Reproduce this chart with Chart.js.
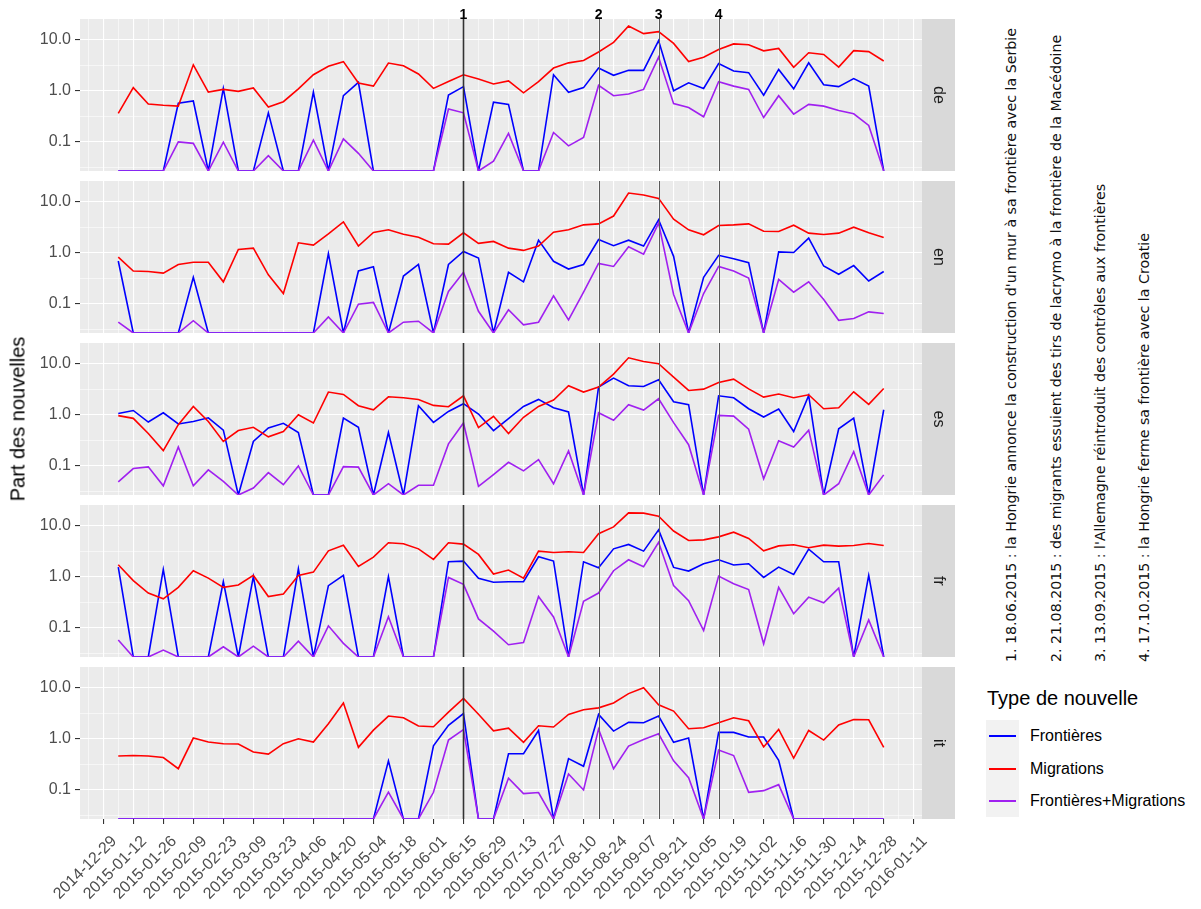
<!DOCTYPE html>
<html>
<head>
<meta charset="utf-8">
<script src="https://cdn.jsdelivr.net/npm/chart.js@4.4.1/dist/chart.umd.min.js"></script>
<style>
  body { margin: 0; background: #fff; font-family: "Liberation Sans", Arial, sans-serif; }
  #wrap { position: relative; width: 1201px; height: 909px; overflow: hidden; }
  #wrap canvas { position: absolute; left: 0; }
  .note { position: absolute; white-space: nowrap; transform-origin: 0 0; transform: rotate(-90deg);
          font-family: "DejaVu Sans", sans-serif; font-size: 14.2px; line-height: 16px; color: #111; }
  .ytitle { position: absolute; left: 18px; top: 419px; white-space: nowrap; font-size: 20px; color: #000;
            transform: translate(-50%, -50%) rotate(-90deg); }
  .lgtitle { position: absolute; left: 987px; top: 688px; font-size: 20px; line-height: 20px; color: #000; }
  .lgbox { position: absolute; left: 986px; top: 720px; width: 33px; height: 97px; background: #F2F2F2; }
  .lgline { position: absolute; left: 989px; width: 27px; height: 2px; }
  .lgtext { position: absolute; left: 1030px; font-size: 16px; line-height: 18px; color: #000; white-space: nowrap; }
</style>
</head>
<body>
<div id="wrap"></div>
<script>
// semaines (lundi)
const weeks = [
  '2015-01-05','2015-01-12','2015-01-19','2015-01-26','2015-02-02','2015-02-09','2015-02-16','2015-02-23',
  '2015-03-02','2015-03-09','2015-03-16','2015-03-23','2015-03-30','2015-04-06','2015-04-13','2015-04-20',
  '2015-04-27','2015-05-04','2015-05-11','2015-05-18','2015-05-25','2015-06-01','2015-06-08','2015-06-15',
  '2015-06-22','2015-06-29','2015-07-06','2015-07-13','2015-07-20','2015-07-27','2015-08-03','2015-08-10',
  '2015-08-17','2015-08-24','2015-08-31','2015-09-07','2015-09-14','2015-09-21','2015-09-28','2015-10-05',
  '2015-10-12','2015-10-19','2015-10-26','2015-11-02','2015-11-09','2015-11-16','2015-11-23','2015-11-30',
  '2015-12-07','2015-12-14','2015-12-21','2015-12-28'
];
const tickLabels = [
  '2014-12-29','2015-01-12','2015-01-26','2015-02-09','2015-02-23','2015-03-09','2015-03-23','2015-04-06',
  '2015-04-20','2015-05-04','2015-05-18','2015-06-01','2015-06-15','2015-06-29','2015-07-13','2015-07-27',
  '2015-08-10','2015-08-24','2015-09-07','2015-09-21','2015-10-05','2015-10-19','2015-11-02','2015-11-16',
  '2015-11-30','2015-12-14','2015-12-28','2016-01-11'
];
const yTicks = [0.1, 1, 10];
const yTickLabels = ['0.1', '1.0', '10.0'];

const seriesNames = ['Frontières', 'Migrations', 'Frontières+Migrations'];
const seriesColors = ['#0000FF', '#FF0000', '#A020F0'];

const deFront = [0,0,0,0,0.57,0.63,0,1.11,0,0,0.37,0,0,0.94,0,0.80,1.46,0,0,0,0,0,0.82,1.2,
  0,0.60,0.54,0,0,2.05,0.93,1.15,2.77,2.0,2.5,2.5,9.5,1.0,1.43,1.11,3.4,2.42,2.25,0.82,2.6,1.09,3.5,1.31,1.2,1.72,1.23,0];
const deMigr = [0.36,1.15,0.55,0.52,0.50,3.2,0.94,1.06,0.97,1.13,0.48,0.61,1.09,2.05,3.0,3.7,1.41,1.23,3.47,3.08,2.12,1.11,1.52,2.05,
  1.69,1.35,1.55,0.91,1.50,2.77,3.5,3.9,5.7,8.8,18.4,13.0,14.2,8.4,3.7,4.5,6.4,8.2,7.9,6.0,6.7,2.86,5.5,5.1,2.9,6.05,5.8,3.8];
const deBoth = [0,0,0,0,0.10,0.094,0,0.099,0,0,0.054,0,0,0.109,0,0.115,0.06,0,0,0,0,0,0.44,0.37,
  0,0.042,0.147,0,0,0.153,0.084,0.122,1.27,0.80,0.86,1.06,4.5,0.56,0.47,0.31,1.5,1.23,1.06,0.30,0.80,0.35,0.54,0.50,0.41,0.355,0.21,0];

const enFront = [0.69,0,0,0,0,0.33,0,0,0,0,0,0,0,0,0.96,0,0.44,0.53,0,0.35,0.59,0,0.59,1.06,
  0.79,0,0.415,0.27,1.76,0.68,0.48,0.59,1.81,1.37,1.76,1.35,4.4,0.85,0,0.33,0.89,0.76,0.64,0,1.04,1.01,1.93,0.55,0.38,0.56,0.28,0.43];
const enMigr = [0.82,0.44,0.43,0.40,0.59,0.65,0.65,0.27,1.16,1.23,0.37,0.16,1.56,1.41,2.34,4.0,1.35,2.48,2.8,2.3,2.0,1.50,1.47,2.45,
  1.52,1.66,1.23,1.11,1.35,2.52,2.8,3.5,3.66,5.2,14.6,13.4,11.5,4.5,2.8,2.24,3.4,3.5,3.66,2.63,2.6,3.44,2.41,2.27,2.41,3.15,2.45,1.98];
const enBoth = [0.044,0,0,0,0,0.047,0,0,0,0,0,0,0,0,0.056,0,0.099,0.107,0,0.044,0.046,0,0.175,0.415,
  0.072,0,0.077,0.039,0.044,0.144,0.049,0.17,0.62,0.54,1.31,0.94,3.77,0.153,0,0.16,0.54,0.44,0.32,0,0.30,0.17,0.27,0.122,0.048,0.052,0.070,0.065];

const esFront = [1.06,1.21,0.72,1.09,0.66,0.74,0.87,0.50,0,0.30,0.55,0.68,0.45,0,0,0.86,0.57,0,0.45,0,1.50,0.71,1.16,1.64,
  1.03,0.49,0.84,1.45,1.99,1.37,1.13,0,3.46,5.2,3.67,3.56,4.8,1.79,1.57,0,2.34,2.14,1.31,0.90,1.29,0.47,2.38,0,0.53,0.86,0,1.25];
const esMigr = [0.96,0.85,0.43,0.20,0.64,1.45,0.74,0.30,0.49,0.57,0.37,0.47,1.0,0.69,2.77,2.49,1.50,1.25,2.24,2.14,1.99,1.52,1.43,2.34,
  0.56,0.93,0.43,0.89,1.45,1.93,3.67,2.77,3.46,6.2,12.9,10.9,9.9,5.4,2.98,3.16,4.27,4.95,3.2,2.21,2.53,2.14,2.45,1.31,1.37,2.8,1.59,3.26];
const esBoth = [0.049,0.089,0.096,0.041,0.235,0.041,0.084,0.05,0,0.037,0.074,0.043,0.10,0,0,0.097,0.095,0,0.045,0,0.042,0.042,0.27,0.69,
  0.040,0.068,0.118,0.080,0.133,0.045,0.196,0,1.09,0.78,1.57,1.23,2.05,0.70,0.26,0,0.97,0.94,0.52,0.056,0.31,0.234,0.50,0,0.045,0.19,0,0.067];

const frFront = [1.54,0,0,1.39,0,0,0,0.80,0,1.01,0,0,1.43,0,0.67,1.06,0,0,1.0,0,0,0,1.96,2.02,
  0.93,0.78,0.80,0.80,2.45,2.02,0,1.96,1.50,3.5,4.27,3.16,8.2,1.52,1.29,1.79,2.14,1.69,1.79,0.97,1.54,1.11,3.46,1.96,1.96,0,1.06,0];
const frMigr = [1.71,0.84,0.48,0.37,0.62,1.31,0.94,0.62,0.69,1.06,0.41,0.46,1.06,1.23,3.2,4.1,1.59,2.42,4.6,4.4,3.5,2.18,4.6,4.33,
  2.72,1.13,1.35,0.94,3.16,2.98,3.07,2.98,6.9,9.4,17.6,17.4,15.2,7.8,5.1,5.25,6.0,7.4,5.6,3.2,4.0,4.2,3.67,4.14,3.96,4.07,4.46,4.07];
const frBoth = [0.058,0,0,0.037,0,0,0,0.043,0,0.044,0,0,0.055,0,0.11,0.05,0,0,0.166,0,0,0,0.97,0.71,
  0.15,0.087,0.047,0.052,0.41,0.164,0,0.33,0.48,1.31,2.14,1.57,4.7,0.67,0.34,0.089,1.03,0.73,0.56,0.049,0.62,0.19,0.40,0.31,0.60,0,0.143,0];

const itFront = [0,0,0,0,0,0,0,0,0,0,0,0,0,0,0,0,0,0,0.37,0,0,0.73,1.82,3.1,
  0,0,0.51,0.51,1.45,0,0.41,0.29,2.98,1.41,2.08,2.05,2.77,0.85,1.03,0,1.33,1.33,1.08,1.08,0.38,0,0,0,0,0,0,0];
const itMigr = [0.46,0.47,0.46,0.43,0.26,1.03,0.86,0.80,0.79,0.55,0.50,0.80,1.0,0.86,1.96,5.0,0.68,1.47,2.77,2.57,1.77,1.71,3.3,6.1,
  3.0,1.43,1.61,0.85,1.79,1.69,2.98,3.67,4.0,5.0,7.6,9.9,4.6,3.46,1.57,1.64,2.05,2.57,2.24,0.69,1.52,0.42,1.45,0.94,1.85,2.38,2.34,0.68];
const itBoth = [0,0,0,0,0,0,0,0,0,0,0,0,0,0,0,0,0,0,0.091,0,0,0.090,0.94,1.50,
  0,0,0.169,0.085,0.089,0,0.205,0.10,1.54,0.26,0.72,0.97,1.25,0.37,0.174,0,0.60,0.47,0.09,0.097,0.127,0,0,0,0,0,0,0];

const panels = [
  ['de', deFront, deMigr, deBoth],
  ['en', enFront, enMigr, enBoth],
  ['es', esFront, esMigr, esBoth],
  ['fr', frFront, frMigr, frBoth],
  ['it', itFront, itMigr, itBoth]
];

const eventDates = ['2015-06-15', '2015-08-17', '2015-09-14', '2015-10-12'];
const eventLabels = ['1', '2', '3', '4'];
const eventNotes = [
  "1. 18.06.2015 : la Hongrie annonce la construction d'un mur à sa frontière avec la Serbie",
  "2. 21.08.2015 : des migrants essuient des tirs de lacrymo à la frontière de la Macédoine",
  "3. 13.09.2015 : l'Allemagne réintroduit des contrôles aux frontières",
  "4. 17.10.2015 : la Hongrie ferme sa frontière avec la Croatie"
];

// mise en page
const CANVAS_W = 960, PLOT_L = 80, PLOT_R = 922, STRIP_W = 33;
const PANEL_TOP = [19, 181, 343, 505, 667], PANEL_H = 152;
const X_MIN = -1.55, X_MAX = 54.55;
const Y_MIN = Math.pow(10, -1.567), Y_MAX = Math.pow(10, 1.40);
const FONT = '"Liberation Sans", Arial, sans-serif';

function weekIndex(d) {
  const p = d.split('-').map(Number);
  return Math.round((Date.UTC(p[0], p[1] - 1, p[2]) - Date.UTC(2014, 11, 29)) / 604800000);
}
const tickPos = tickLabels.map(weekIndex);
const xGrid = [];
for (let k = Math.ceil(X_MIN); k <= Math.floor(X_MAX); k++) xGrid.push(k);
const yGrid = [Math.pow(10, -1.5), 0.1, Math.pow(10, -0.5), 1, Math.pow(10, 0.5), 10];

const panelPlugin = {
  id: 'panel',
  beforeDraw(chart) {
    const a = chart.chartArea, ctx = chart.ctx;
    ctx.save();
    ctx.fillStyle = '#EBEBEB';
    ctx.fillRect(a.left, a.top, a.right - a.left, a.bottom - a.top);
    ctx.restore();
  },
  afterDatasetsDraw(chart) {
    const a = chart.chartArea, ctx = chart.ctx, xs = chart.scales.x;
    ctx.save();
    eventDates.forEach((d, k) => {
      const x = Math.round(xs.getPixelForValue(weekIndex(d))) + 0.5;
      ctx.strokeStyle = k === 0 ? '#333333' : '#595959';
      ctx.lineWidth = k === 0 ? 1.6 : 1;
      ctx.beginPath();
      ctx.moveTo(x, a.top);
      ctx.lineTo(x, a.bottom);
      ctx.stroke();
    });
    ctx.restore();
  },
  afterDraw(chart, args, opts) {
    const a = chart.chartArea, ctx = chart.ctx, xs = chart.scales.x;
    ctx.save();
    ctx.fillStyle = '#D9D9D9';
    ctx.fillRect(a.right, a.top, STRIP_W, a.bottom - a.top);
    ctx.fillStyle = '#1A1A1A';
    ctx.font = '16px ' + FONT;
    ctx.textAlign = 'center';
    ctx.textBaseline = 'middle';
    ctx.translate(a.right + STRIP_W / 2, (a.top + a.bottom) / 2);
    ctx.rotate(Math.PI / 2);
    ctx.fillText(opts.label, 0, 0);
    ctx.restore();
    if (opts.first) {
      ctx.save();
      ctx.fillStyle = '#000';
      ctx.font = 'bold 14px ' + FONT;
      ctx.textAlign = 'center';
      ctx.textBaseline = 'alphabetic';
      eventDates.forEach((d, k) => {
        ctx.fillText(eventLabels[k], xs.getPixelForValue(weekIndex(d)), a.top);
      });
      ctx.restore();
    }
  }
};

const wrap = document.getElementById('wrap');

panels.forEach((p, i) => {
  const isFirst = i === 0, isLast = i === panels.length - 1;
  const cTop = isFirst ? 0 : PANEL_TOP[i] - 4;
  const padTop = PANEL_TOP[i] - cTop;
  const cH = isLast ? 909 - cTop : padTop + PANEL_H + 4;
  const padBottom = isLast ? 0 : 4;
  const xH = isLast ? cH - padTop - PANEL_H : 0;

  const cv = document.createElement('canvas');
  cv.width = CANVAS_W; cv.height = cH;
  cv.style.top = cTop + 'px';
  wrap.appendChild(cv);

  const vals = [p[1], p[2], p[3]];
  new Chart(cv, {
    type: 'line',
    data: {
      datasets: seriesNames.map((name, j) => ({
        label: name,
        data: weeks.map((d, k) => ({ x: weekIndex(d), y: vals[j][k] > 0 ? vals[j][k] : Y_MIN })),
        borderColor: seriesColors[j],
        backgroundColor: seriesColors[j],
        borderWidth: 1.6,
        pointRadius: 0,
        tension: 0,
        fill: false,
        order: 2 - j
      }))
    },
    options: {
      responsive: false,
      animation: false,
      devicePixelRatio: 1,
      layout: { padding: { left: 0, right: CANVAS_W - PLOT_R, top: padTop, bottom: padBottom } },
      plugins: {
        legend: { display: false },
        tooltip: { enabled: false },
        panel: { label: p[0], first: isFirst }
      },
      scales: {
        x: {
          type: 'linear',
          min: X_MIN,
          max: X_MAX,
          afterBuildTicks: s => { s.ticks = xGrid.map(v => ({ value: v })); },
          afterFit: s => { s.height = xH; s.paddingLeft = 0; s.paddingRight = 0; },
          border: { display: false },
          grid: {
            color: '#FFFFFF',
            lineWidth: c => tickPos.includes(c.tick && c.tick.value) ? 1.1 : 0.55,
            drawTicks: isLast,
            tickLength: 5,
            tickWidth: 1.1,
            tickColor: c => tickPos.includes(c.tick && c.tick.value) ? '#333333' : 'rgba(0,0,0,0)'
          },
          ticks: {
            display: isLast,
            autoSkip: false,
            minRotation: 45,
            maxRotation: 45,
            padding: 8,
            labelOffset: 11,
            color: '#4D4D4D',
            font: { family: FONT, size: 16 },
            callback: v => { const k = tickPos.indexOf(v); return k >= 0 ? tickLabels[k] : ''; }
          }
        },
        y: {
          type: 'logarithmic',
          min: Y_MIN,
          max: Y_MAX,
          afterBuildTicks: s => { s.ticks = yGrid.map(v => ({ value: v })); },
          afterFit: s => { s.width = PLOT_L; s.paddingTop = 0; s.paddingBottom = 0; },
          border: { display: false },
          grid: {
            color: '#FFFFFF',
            lineWidth: c => yTicks.includes(c.tick && c.tick.value) ? 1.1 : 0.55,
            tickLength: 5,
            tickWidth: 1.1,
            tickColor: c => yTicks.includes(c.tick && c.tick.value) ? '#333333' : 'rgba(0,0,0,0)'
          },
          ticks: {
            autoSkip: false,
            padding: 4,
            color: '#4D4D4D',
            font: { family: FONT, size: 16 },
            callback: v => { const k = yTicks.indexOf(v); return k >= 0 ? yTickLabels[k] : ''; }
          }
        }
      }
    },
    plugins: [panelPlugin]
  });
});

// titre de l'axe y
const yt = document.createElement('div');
yt.className = 'ytitle';
yt.textContent = 'Part des nouvelles';
wrap.appendChild(yt);

// notes des événements
const noteX = [1003, 1048, 1092, 1136];
eventNotes.forEach((t, k) => {
  const n = document.createElement('div');
  n.className = 'note';
  n.style.left = noteX[k] + 'px';
  n.style.top = '662px';
  n.textContent = t;
  wrap.appendChild(n);
});

// légende
const lt = document.createElement('div');
lt.className = 'lgtitle';
lt.textContent = 'Type de nouvelle';
wrap.appendChild(lt);
const lb = document.createElement('div');
lb.className = 'lgbox';
wrap.appendChild(lb);
seriesNames.forEach((name, j) => {
  const cy = 736 + j * 32.5;
  const ln = document.createElement('div');
  ln.className = 'lgline';
  ln.style.top = (cy - 1) + 'px';
  ln.style.background = seriesColors[j];
  wrap.appendChild(ln);
  const tx = document.createElement('div');
  tx.className = 'lgtext';
  tx.style.top = (cy - 9) + 'px';
  tx.textContent = name;
  wrap.appendChild(tx);
});
</script>
</body>
</html>
